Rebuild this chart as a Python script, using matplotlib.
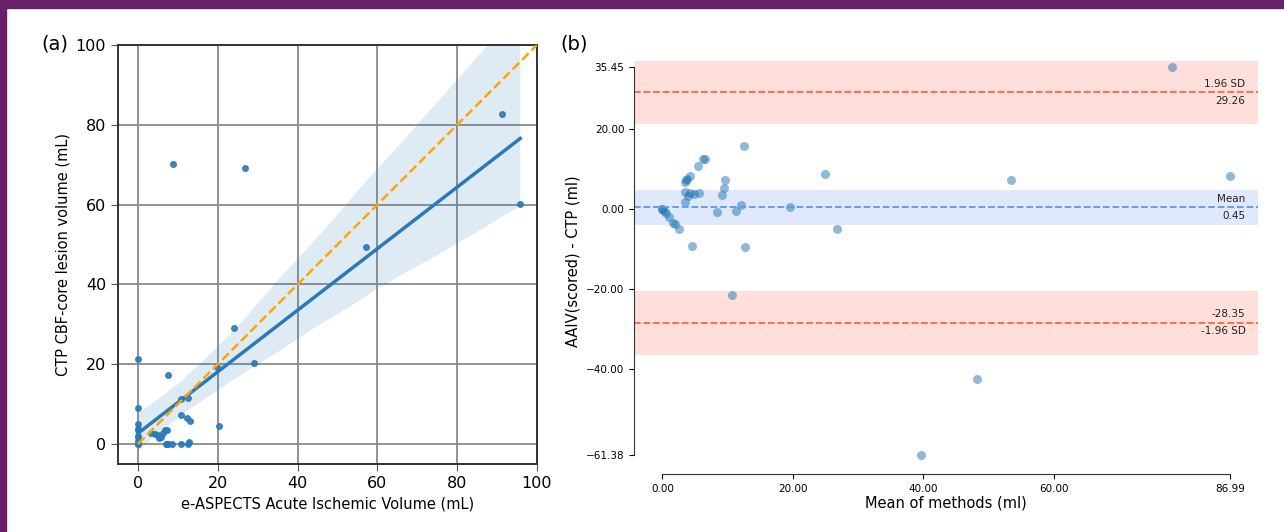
import numpy as np
import matplotlib
matplotlib.use("Agg")
import matplotlib.pyplot as plt
import seaborn as sns
from matplotlib.patches import Rectangle

# panel (a): e-ASPECTS volume vs CTP core volume (mL)
aaiv_ml = [0, 0, 0, 0, 0, 0, 0, 0, 0, 0,
           3.3, 4.3, 5.1, 5.4, 5.9, 6.4, 6.9, 7.4,
           6.95, 7.2, 7.55, 8.45, 10.8, 12.6, 12.9,
           7.6, 10.9, 12.6, 10.8, 12.2, 13.0,
           20.4, 19.85, 24.1, 29.1,
           8.8, 26.9, 57.1, 91.2, 95.8]
ctp_ml = [0.0, 0.0, 0.7, 1.7, 2.0, 3.4, 3.8, 5.0, 9.0, 21.2,
          2.8, 2.6, 2.3, 1.6, 1.7, 2.8, 3.4, 3.6,
          0.0, 0.0, 0.0, 0.0, 0.0, 0.1, 0.4,
          17.3, 11.3, 11.5, 7.4, 6.6, 5.8,
          4.4, 19.35, 29.1, 20.3,
          70.1, 69.1, 49.5, 82.8, 60.2]

# panel (b): Bland-Altman
ba_mean = [0.0, 0.0, 0.26, 0.52, 1.03, 1.65, 1.9, 2.6, 4.6,
           3.5, 3.9, 3.5, 4.2, 4.8, 5.6, 3.5, 3.6, 3.8, 4.25, 5.4, 6.3, 6.6,
           8.35, 9.1, 9.5, 9.6, 11.3, 12.1, 12.47, 12.7,
           10.6, 19.6, 24.9, 26.8, 39.7, 48.2, 53.4, 78.2, 86.99]
ba_diff = [0.1, 0.0, -0.35, -0.85, -2.0, -3.5, -3.8, -4.95, -9.1,
           1.9, 3.4, 4.3, 4.0, 3.8, 4.0, 6.9, 7.2, 7.5, 8.4, 10.7, 12.5, 12.5,
           -0.6, 3.6, 5.3, 7.2, -0.4, 1.1, 15.7, -9.5,
           -21.4, 0.5, 8.9, -4.9, -61.38, -42.5, 7.4, 35.45, 8.2]
md = 0.45
loa_hi = 29.26
loa_lo = -28.35
mean_ci = (-4.0, 4.9)
hi_ci = (21.35, 37.1)
lo_ci = (-36.4, -20.55)
x_ticks_b = [0.0, 20.0, 40.0, 60.0, 86.99]
y_ticks_b = [-61.38, -40.0, -20.0, 0.0, 20.0, 35.45]

mean_col = "#6495ED"
loa_col = "#FF6347"

fig = plt.figure(figsize=(12.84, 5.32), dpi=100)

# ---- (a)
ax1 = fig.add_axes([0.0919, 0.1278, 0.3263, 0.7876])
sns.regplot(x=np.array(aaiv_ml), y=np.array(ctp_ml), ax=ax1, seed=1,
            scatter_kws={"s": 16, "alpha": 0.9, "zorder": 3},
            line_kws={"lw": 2.5, "zorder": 4}, color="#2a7ab9")
ax1.plot([0, 100], [0, 100], ls="--", color="orange", lw=1.8, zorder=5)
ax1.set_xlim(-5, 100)
ax1.set_ylim(-5, 100)
ax1.set_xticks([0, 20, 40, 60, 80, 100])
ax1.set_yticks([0, 20, 40, 60, 80, 100])
ax1.grid(True, color="#8a8a8a", lw=1.3)
ax1.set_axisbelow(True)
for s in ax1.spines.values():
    s.set_color("#333333")
    s.set_linewidth(1.4)
ax1.tick_params(labelsize=11.5, length=5, color="#555555")
ax1.set_xlabel("e-ASPECTS Acute Ischemic Volume (mL)", fontsize=10.5)
ax1.set_ylabel("CTP CBF-core lesion volume (mL)", fontsize=10.5)

# ---- (b)
ax2 = fig.add_axes([0.4938, 0.109, 0.486, 0.8008])
ax2.axhspan(*mean_ci, facecolor=mean_col, alpha=0.2, lw=0)
ax2.axhspan(*hi_ci, facecolor=loa_col, alpha=0.2, lw=0)
ax2.axhspan(*lo_ci, facecolor=loa_col, alpha=0.2, lw=0)
ax2.axhline(md, color=mean_col, ls="--", lw=1.3)
ax2.axhline(loa_hi, color=loa_col, ls="--", lw=1.3)
ax2.axhline(loa_lo, color=loa_col, ls="--", lw=1.3)
ax2.scatter(ba_mean, ba_diff, s=42, alpha=0.5, color="#1f77b4", lw=0)
ax2.set_xlim(-4.35, 91.34)
ax2.set_ylim(-66.22, 40.29)

trans = matplotlib.transforms.blended_transform_factory(ax2.transAxes, ax2.transData)
off = (loa_hi - loa_lo) / 100.0 * 1.5
tkw = dict(ha="right", fontsize=7.5, transform=trans, color="#222222")
ax2.text(0.98, md + off, "Mean", va="bottom", **tkw)
ax2.text(0.98, md - off, f"{md:.2f}", va="top", **tkw)
ax2.text(0.98, loa_hi + off, "1.96 SD", va="bottom", **tkw)
ax2.text(0.98, loa_hi - off, f"{loa_hi:.2f}", va="top", **tkw)
ax2.text(0.98, loa_lo + off, f"{loa_lo:.2f}", va="bottom", **tkw)
ax2.text(0.98, loa_lo - off, "-1.96 SD", va="top", **tkw)

ax2.spines["right"].set_visible(False)
ax2.spines["top"].set_visible(False)
ax2.spines["left"].set_bounds(min(ba_diff), max(ba_diff))
ax2.spines["bottom"].set_bounds(min(ba_mean), max(ba_mean))
for s in ("left", "bottom"):
    ax2.spines[s].set_color("#333333")
ax2.set_xticks(x_ticks_b)
ax2.set_yticks(y_ticks_b)
ax2.xaxis.set_major_formatter(matplotlib.ticker.FormatStrFormatter("%.2f"))
ax2.yaxis.set_major_formatter(matplotlib.ticker.FuncFormatter(
    lambda v, p: f"{v:.2f}".replace("-", "\u2212")))
ax2.tick_params(labelsize=7.5, length=3.5)
ax2.set_xlabel("Mean of methods (ml)", fontsize=10.5, labelpad=1)
ax2.set_ylabel("AAIV(scored) - CTP (ml)", fontsize=10.5)
ax2.patch.set_alpha(0)

fig.text(0.043, 0.917, "(a)", fontsize=14, ha="center", va="center")
fig.text(0.447, 0.917, "(b)", fontsize=14, ha="center", va="center")

# purple frame
purple = "#6a1f6d"
fig.patches.append(Rectangle((0, 1 - 8 / 532), 1, 8 / 532, transform=fig.transFigure,
                             color=purple, zorder=10))
fig.patches.append(Rectangle((0, 0), 6 / 1284, 1, transform=fig.transFigure,
                             color=purple, zorder=10))

fig.savefig("out.png", dpi=100)
